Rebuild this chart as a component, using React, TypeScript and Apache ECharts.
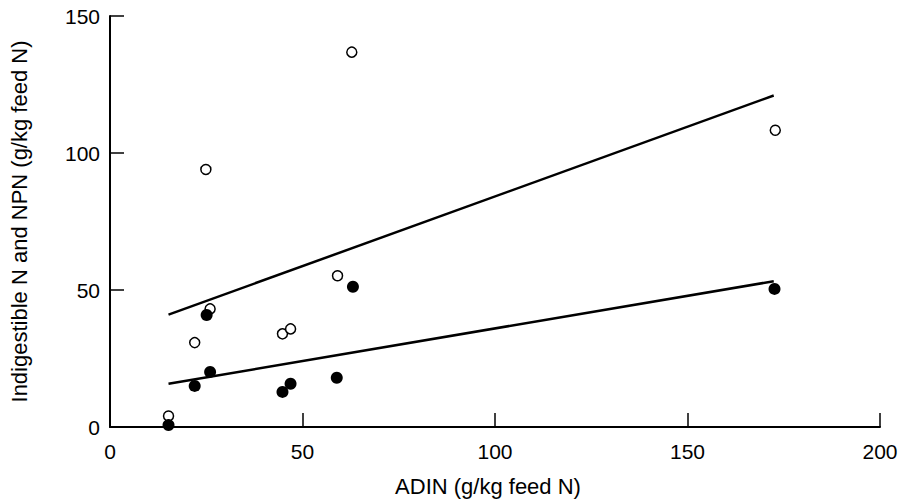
import React, { useEffect, useRef } from "react";
import * as echarts from "echarts";

const xTicks = [0, 50, 100, 150, 200];
const yTicks = [0, 50, 100, 150];

// Open circles: indigestible N + NPN
const openX = [15.2, 22.0, 26.0, 24.9, 44.8, 46.9, 59.1, 62.8, 172.8];
const openY = [4.0, 30.8, 43.1, 94.0, 34.0, 35.8, 55.2, 136.8, 108.3];

// Filled circles: indigestible N
const filledX = [15.2, 22.0, 25.1, 26.0, 44.8, 46.9, 58.9, 63.1, 172.6];
const filledY = [0.7, 15.0, 40.9, 20.1, 12.8, 15.8, 18.0, 51.2, 50.4];

// Regression lines (end points)
const upperLineX = [15.2, 172.4];
const upperLineY = [41.0, 121.0];
const lowerLineX = [15.2, 172.4];
const lowerLineY = [15.8, 53.2];

const zip = (a: number[], b: number[]) => a.map((v, i) => [v, b[i]]);

export default function App() {
  const ref = useRef<HTMLDivElement>(null);
  useEffect(() => {
    if (!ref.current) return;
    const chart = echarts.init(ref.current, null, { renderer: "svg" });
    const font = "'Liberation Sans', Arial, Helvetica, sans-serif";
    const ink = "#000";
    chart.setOption({
      animation: false,
      backgroundColor: "#fff",
      grid: { left: 108, right: 22, top: 16, bottom: 73 },
      xAxis: {
        type: "value",
        min: xTicks[0],
        max: xTicks[xTicks.length - 1],
        interval: 50,
        name: "ADIN (g/kg feed N)",
        nameLocation: "middle",
        nameGap: 48,
        nameTextStyle: { fontSize: 22, color: ink, fontFamily: font, padding: [0, 14, 0, 0] },
        axisLine: { show: true, lineStyle: { color: ink, width: 2 } },
        axisTick: { show: true, inside: true, length: 14, lineStyle: { color: ink, width: 1.5 } },
        axisLabel: { fontSize: 21, color: ink, fontFamily: font, margin: 14 },
        splitLine: { show: false },
      },
      yAxis: {
        type: "value",
        min: yTicks[0],
        max: yTicks[yTicks.length - 1],
        interval: 50,
        name: "Indigestible N and NPN (g/kg feed N)",
        nameLocation: "middle",
        nameGap: 80,
        nameRotate: 90,
        nameTextStyle: { fontSize: 22, color: ink, fontFamily: font },
        axisLine: { show: true, lineStyle: { color: ink, width: 2 } },
        axisTick: { show: true, inside: true, length: 14, lineStyle: { color: ink, width: 1.5 } },
        axisLabel: { fontSize: 21, color: ink, fontFamily: font, margin: 10 },
        splitLine: { show: false },
      },
      series: [
        {
          type: "line",
          data: zip(upperLineX, upperLineY),
          showSymbol: false,
          symbol: "none",
          lineStyle: { color: ink, width: 2.5, opacity: 1 },
          silent: true,
          z: 1,
        },
        {
          type: "line",
          data: zip(lowerLineX, lowerLineY),
          showSymbol: false,
          symbol: "none",
          lineStyle: { color: ink, width: 2.5, opacity: 1 },
          silent: true,
          z: 1,
        },
        {
          type: "scatter",
          data: zip(openX, openY),
          symbol: "circle",
          symbolSize: 10,
          itemStyle: { color: "#fff", borderColor: ink, borderWidth: 1.5, opacity: 1 },
          z: 3,
        },
        {
          type: "scatter",
          data: zip(filledX, filledY),
          symbol: "circle",
          symbolSize: 12,
          itemStyle: { color: ink, opacity: 1 },
          z: 4,
        },
      ],
    });
    return () => chart.dispose();
  }, []);
  return (
    <div
      ref={ref}
      style={{ position: "fixed", left: 0, top: 0, width: 902, height: 502, background: "#fff" }}
    />
  );
}
